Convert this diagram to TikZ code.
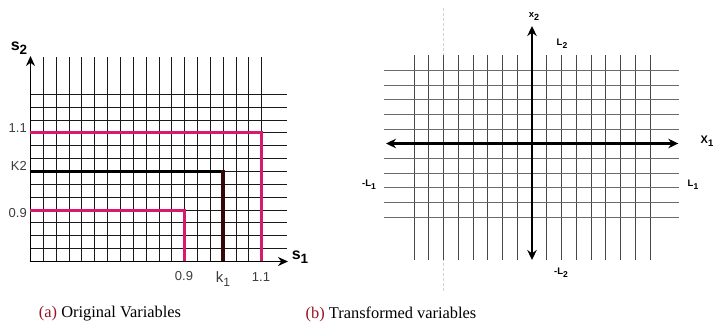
\documentclass[tikz,border=0pt]{standalone}
\usepackage{fontspec}
\newfontfamily\lab{Liberation Sans}
\newfontfamily\capfont{Liberation Serif}
\usetikzlibrary{arrows.meta}
\definecolor{pinkc}{RGB}{214,26,110}
\definecolor{brownc}{RGB}{52,8,8}
\definecolor{capred}{RGB}{150,20,35}
\definecolor{labgray}{RGB}{60,60,60}
% #1 drop, #2 size, #3 text
\newcommand\mysub[3]{\raisebox{-#1}{\fontsize{#2}{#2}\selectfont #3}}
\tikzset{
  gridL/.style={line width=1.5pt, black!90},
  gridRv/.style={line width=1.5pt, black!72},
  gridRh/.style={line width=1.5pt, black!58},
  axisL/.style={line width=1.7pt, black, -{Stealth[length=10pt,width=9pt]}},
  axisR/.style={line width=2.3pt, black, {Stealth[length=10pt,width=9.5pt]}-{Stealth[length=10pt,width=9.5pt]}},
  pinkline/.style={line width=3pt, pinkc, line join=miter},
  bigsub/.style={font=\lab\fontsize{16}{16}\selectfont\bfseries, inner sep=0pt},
  ticklab/.style={font=\lab\fontsize{13}{13}\selectfont, text=labgray, inner sep=0pt},
  smalllab/.style={font=\lab\fontsize{9.5}{10}\selectfont\bfseries, inner sep=0pt},
  caption/.style={font=\capfont\fontsize{16.4}{18}\selectfont, inner sep=0pt}
}
\begin{document}
\begin{tikzpicture}[x=1pt,y=-1pt]
\useasboundingbox (0,0) rectangle (716,324);
% ---------- left panel ----------
\def\gs{12.85}
\foreach \k in {1,...,18} \draw[gridL] ({round(30+\k*\gs)+0.5},57) -- ({round(30+\k*\gs)+0.5},261);
\foreach \k in {1,...,13} \draw[gridL] (30,{round(261-\k*\gs)+0.5}) -- (287,{round(261-\k*\gs)+0.5});
\coordinate (oL) at (30.5,261.5);
\coordinate (yL) at (30.5,56);
\coordinate (xL) at (288,261.5);
\draw[axisL] (oL) -- (yL);
\draw[axisL] (oL) -- (xL);
% pink 1.1
\coordinate (p11a) at (30,132.5);
\coordinate (p11b) at (261.5,132.5);
\coordinate (p11c) at (261.5,261);
\draw[pinkline] (p11a) -- (p11b) -- (p11c);
% pink 0.9
\coordinate (p09a) at (30,210.5);
\coordinate (p09b) at (184.5,210.5);
\coordinate (p09c) at (184.5,261);
\draw[pinkline] (p09a) -- (p09b) -- (p09c);
% black K
\coordinate (ka) at (30,171.5);
\coordinate (kb) at (223,171.5);
\coordinate (kc) at (223,170.2);
\coordinate (kd) at (223,261);
\draw[line width=2.6pt, black] (ka) -- (kb);
\draw[line width=4.2pt, brownc] (kc) -- (kd);
% labels
\node[bigsub] (s2) at (19,48) {s\mysub{4.5pt}{13.5}{2}};
\node[bigsub] (s1) at (300,257) {s\mysub{4.5pt}{13.5}{1}};
\node[ticklab, anchor=east] (l11) at (27,128) {1.1};
\node[ticklab, anchor=east] (lk2) at (27,166) {K2};
\node[ticklab, anchor=east] (l09) at (27,213) {0.9};
\node[ticklab] (b09) at (184,276) {0.9};
\node[ticklab, font=\lab\fontsize{15}{15}\selectfont] (bk1) at (223,279) {k\mysub{4pt}{12}{1}};
\node[ticklab] (b11) at (261,277) {1.1};
% ---------- right panel ----------
\coordinate (dtop) at (443.5,8);
\coordinate (dbot) at (443.5,292);
\draw[densely dashed, black!18, line width=0.6pt] (dtop) -- (dbot);
\foreach \k in {-8,...,-1,1,2,...,8} \draw[gridRv] ({round(531.7+\k*14.75)+0.5},55) -- ({round(531.7+\k*14.75)+0.5},260);
\foreach \k in {-5,...,-1,1,2,...,5} \draw[gridRh] (384.3,{round(143.3+\k*14.7)+0.5}) -- (679.3,{round(143.3+\k*14.7)+0.5});
\coordinate (xR1) at (386,143.5);
\coordinate (xR2) at (678.3,143.5);
\coordinate (yR1) at (532,26);
\coordinate (yR2) at (532,260);
\draw[axisR] (xR1) -- (xR2);
\draw[axisR] (yR1) -- (yR2);
\node[smalllab] (x2) at (534,16) {x\mysub{3pt}{9}{2}};
\node[smalllab] (L2) at (562,44) {L\mysub{3pt}{8.5}{2}};
\node[smalllab, font=\lab\fontsize{11}{11}\selectfont\bfseries] (X1) at (707,141) {X\mysub{3pt}{9.5}{1}};
\node[smalllab] (mL1) at (369,185) {-L\mysub{3pt}{8.5}{1}};
\node[smalllab] (L1) at (693,185) {L\mysub{3pt}{8.5}{1}};
\node[smalllab] (mL2) at (561,273) {-L\mysub{3pt}{8.5}{2}};
% ---------- captions ----------
\node[caption] (capa) at (110,314) {\textcolor{capred}{(a)} Original Variables};
\node[caption] (capb) at (391,314) {\textcolor{capred}{(b)} Transformed variables};
\end{tikzpicture}
\end{document}
